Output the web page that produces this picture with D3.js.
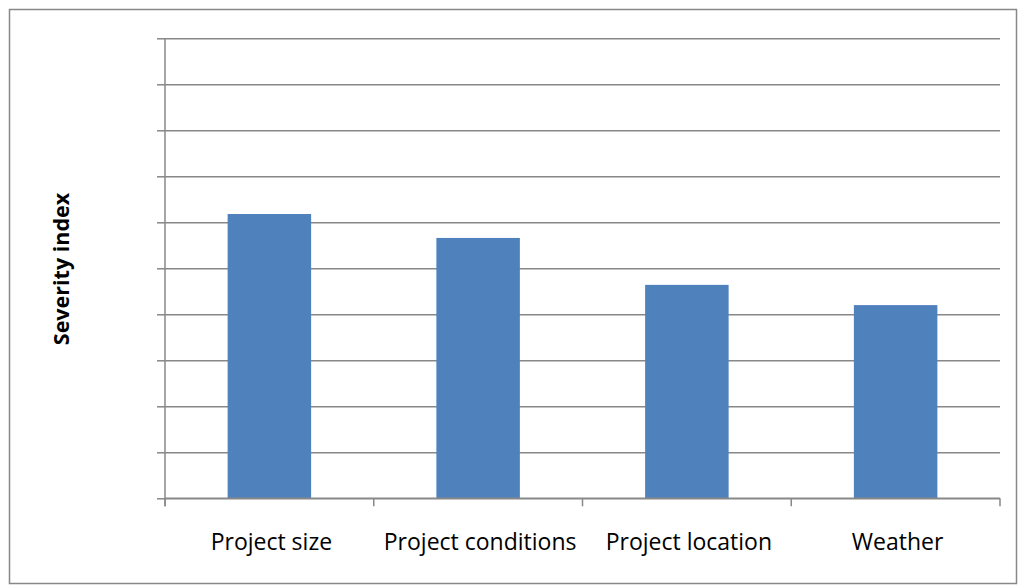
<!DOCTYPE html>
<html><head><meta charset="utf-8">
<script src="https://cdn.jsdelivr.net/npm/d3@7"></script>
<style>html,body{margin:0;padding:0;background:#fff;}svg{display:block;}</style>
</head><body>
<svg id="chart" width="1019" height="585"></svg>
<script>
const categories = ["Project size", "Project conditions", "Project location", "Weather"];
const values = [0.618, 0.566, 0.464, 0.420];
const yTicks = [0, 0.1, 0.2, 0.3, 0.4, 0.5, 0.6, 0.7, 0.8, 0.9, 1.0];
const yTitle = "Severity index";

const svg = d3.select("#chart");
const W = 1019, H = 585;
const m = {left: 165, right: 19, top: 38.3, bottom: 86.7};
const gridColor = "#888888";

// outer border
svg.append("rect").attr("x", 9.5).attr("y", 9.5).attr("width", 1007).attr("height", 574)
  .attr("fill", "#fff").attr("stroke", "#888").attr("stroke-width", 1.5);

const x = d3.scaleBand().domain(categories).range([m.left, W - m.right]).paddingInner(0.6).paddingOuter(0.3);
const y = d3.scaleLinear().domain([0, 1]).range([H - m.bottom, m.top]);

// gridlines
svg.append("g").attr("transform", `translate(${m.left},0)`)
  .call(d3.axisLeft(y).tickValues(yTicks).tickSize(8).tickFormat(""))
  .call(g => g.select(".domain").remove())
  .call(g => g.selectAll("line").attr("stroke", gridColor).attr("stroke-width", 1.5))
  .call(g => g.selectAll(".tick").append("line").attr("x1", 0).attr("x2", W - m.right - m.left)
      .attr("stroke", gridColor).attr("stroke-width", 1.5));

// y axis line
svg.append("line").attr("x1", m.left).attr("x2", m.left).attr("y1", y(1)).attr("y2", y(0) + 8)
  .attr("stroke", gridColor).attr("stroke-width", 1.5);

// bars
svg.append("g").selectAll("rect").data(values).join("rect")
  .attr("x", (d, i) => x(categories[i]))
  .attr("width", x.bandwidth())
  .attr("y", d => y(d))
  .attr("height", d => y(0) - y(d))
  .attr("fill", "#4F81BD");

// x axis
const boundaries = categories.map((c, i) => m.left + i * (W - m.right - m.left) / categories.length)
  .concat([W - m.right]);
svg.append("g").selectAll("line").data(boundaries).join("line")
  .attr("x1", d => d).attr("x2", d => d).attr("y1", y(0)).attr("y2", y(0) + 8)
  .attr("stroke", gridColor).attr("stroke-width", 1.5);
svg.append("line").attr("x1", m.left).attr("x2", W - m.right).attr("y1", y(0)).attr("y2", y(0))
  .attr("stroke", gridColor).attr("stroke-width", 1.5);

svg.append("g").selectAll("text").data(categories).join("text")
  .attr("x", d => x(d) + x.bandwidth() / 2 + 2)
  .attr("y", 549.5)
  .attr("text-anchor", "middle")
  .attr("font-family", "Open Sans, sans-serif")
  .attr("font-size", 23)
  .attr("fill", "#000")
  .text(d => d);

svg.append("text")
  .attr("transform", `translate(69,${(193 + 345) / 2}) rotate(-90)`)
  .attr("text-anchor", "middle")
  .attr("font-family", "Open Sans, sans-serif")
  .attr("font-weight", "bold")
  .attr("font-size", 21.5)
  .attr("fill", "#000")
  .text(yTitle);
</script>
</body></html>
